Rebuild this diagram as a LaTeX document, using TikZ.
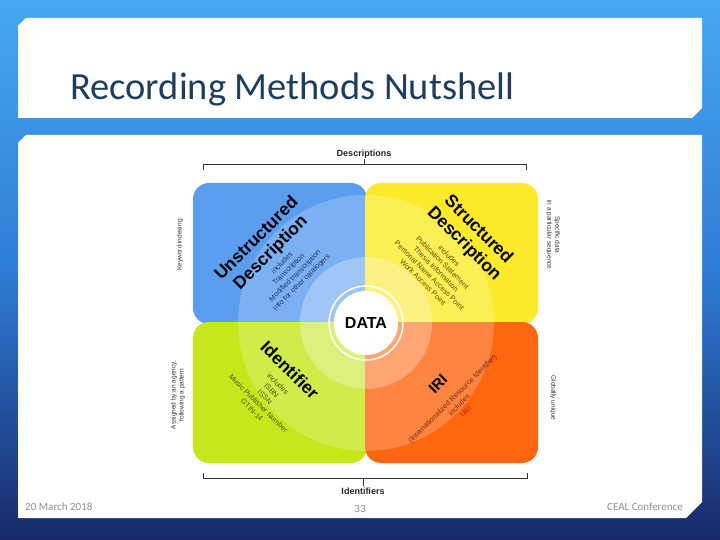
\documentclass[tikz,border=0pt]{standalone}
\usepackage{fontspec}
\setmainfont{Liberation Sans}
\newfontfamily\slidefont{Carlito}
\definecolor{bgtop}{HTML}{47A7F2}
\definecolor{bgmid}{HTML}{2E7CD6}
\definecolor{bgbot}{HTML}{18296A}
\definecolor{titleblue}{HTML}{1F3D5C}
\definecolor{footgray}{HTML}{8A8F94}
\definecolor{qblue}{HTML}{5B9EF0}
\definecolor{qyellow}{HTML}{FCEA2B}
\definecolor{qgreen}{HTML}{C4E81C}
\definecolor{qorange}{HTML}{FF6610}
\definecolor{tblue}{HTML}{1E3366}
\definecolor{tyellow}{HTML}{5A5000}
\definecolor{tgreen}{HTML}{48580C}
\definecolor{torange}{HTML}{7A2A10}
\definecolor{turi}{HTML}{C42A10}
\definecolor{sidegray}{HTML}{333333}
\tikzset{
  quad/.style={rounded corners=16pt},
  qtitle/.style={font=\bfseries\fontsize{17.5}{20}\selectfont, align=center, inner sep=0},
  qsub/.style={font=\fontsize{7.3}{9.2}\selectfont, align=center, inner sep=0},
  sidelab/.style={font=\fontsize{6.5}{8}\selectfont, text=sidegray, align=center, inner sep=0},
  brlab/.style={font=\bfseries\fontsize{9}{11}\selectfont, text=black!85, inner sep=0},
  bracket/.style={draw=black!80, line width=1pt},
  foot/.style={font=\slidefont\fontsize{11}{13}\selectfont, text=footgray, inner sep=0}
}
\begin{document}
\begin{tikzpicture}[x=1pt,y=-1pt]
\useasboundingbox (0,0) rectangle (720,540);
% background
\shade[top color=bgtop, bottom color=bgbot, middle color=bgmid] (0,0) rectangle (720,540);
% panels
\fill[white] (18,26) -- (26,18) -- (702,18) -- (702,108) -- (692,118) -- (18,118) -- cycle;
\fill[white] (18,143) -- (26,135) -- (702,135) -- (702,502) -- (686,518) -- (18,518) -- cycle;
% title
\node[anchor=base west, font=\slidefont\fontsize{38.5}{40}\selectfont, text=titleblue, inner sep=0] (title) at (70,100) {Recording Methods Nutshell};
% quadrants
\fill[qblue, quad] (193,183) rectangle (367,324);
\fill[qyellow, quad] (365,183) rectangle (538,324);
\fill[qgreen, quad] (193,322) rectangle (367,463);
\fill[qorange, quad] (365,322) rectangle (538,463);
% halos
\fill[white, fill opacity=0.2] (366,323) circle (128pt);
\fill[white, fill opacity=0.28] (366,323) circle (66pt);
\draw[white, line width=1.5pt] (366,323) circle (37pt);
\node[circle, fill=white, minimum size=64pt, inner sep=0, font=\bfseries\fontsize{16}{18}\selectfont] (data) at (366,323) {DATA};
% quadrant texts
\node[qtitle, rotate=45] (ud) at (264,246) {Unstructured\\Description};
\node[qsub, rotate=45, text=tblue] (uds) at (292,273) {includes\\Transcription\\Modified transcription\\Info for other catalogers};
\node[qtitle, rotate=-45] (sd) at (471,237) {Structured\\Description};
\node[qsub, rotate=-45, text=tyellow] (sds) at (436,269) {includes\\Publication Statement\\Thesis Information\\Personal Name Access Point\\Work Access Point};
\node[qtitle, rotate=-45] (id) at (290,370) {Identifier};
\node[qsub, rotate=-45, text=tgreen] (ids) at (265,397) {includes\\ISBN\\ISSN\\Music Publisher Number\\GTIN-14};
\node[qtitle, rotate=45, font=\bfseries\fontsize{15}{17}\selectfont] (iri) at (438,384) {IRI};
\node[qsub, rotate=45, text=torange] (iris) at (459,405) {(Internationalized Resource Identifier)\\includes\\\textcolor{turi}{URI}};
% brackets
\node[brlab] (desc) at (364,154) {Descriptions};
\draw[bracket] (203,170) -- (203,165) -- (526,165) -- (526,170);
\draw[bracket] (desc.south) ++(0,1) -- (364,165);
\node[brlab] (idf) at (363,491) {Identifiers};
\draw[bracket] (203,473) -- (203,478) -- (527,478) -- (527,473);
\draw[bracket] (idf.north) ++(0,-1) -- (363,478);
% side labels
\node[sidelab, rotate=90] (kw) at (180,245) {Keyword indexing};
\node[sidelab, rotate=90] (ag) at (178,395) {Assigned by an agency,\\following a pattern};
\node[sidelab, rotate=-90] (sp) at (553,235) {Specific data\\in a particular sequence};
\node[sidelab, rotate=-90] (gu) at (553,398) {Globally unique};
% footer
\node[foot, anchor=base west] (date) at (25,510) {20 March 2018};
\node[foot, anchor=base] (page) at (360,512) {33};
\node[foot, anchor=base east] (conf) at (683,510) {CEAL Conference};
\end{tikzpicture}
\end{document}
